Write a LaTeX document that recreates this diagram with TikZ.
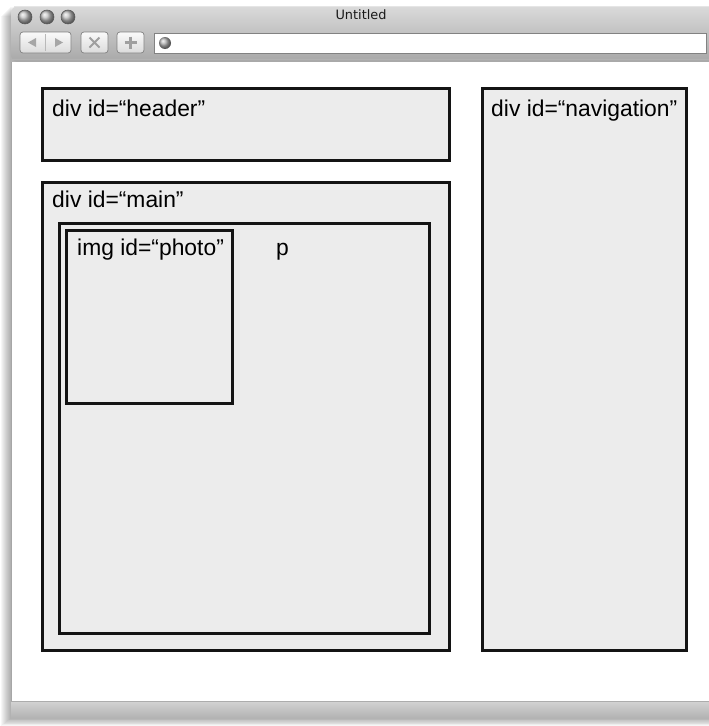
\documentclass[tikz,border=0pt]{standalone}
\usepackage{fontspec}
\setmainfont{Liberation Sans}
\newfontfamily\chromefont{DejaVu Sans}
\usepackage{tikz}
\usetikzlibrary{positioning}
\definecolor{BoxFill}{RGB}{236,236,236}
\definecolor{BoxLine}{RGB}{20,20,20}
\definecolor{MetalTop}{RGB}{218,218,218}
\definecolor{MetalBot}{RGB}{168,168,168}
\definecolor{BtnLine}{RGB}{130,130,130}
\newcommand{\pxu}{0.03cm}

\begin{document}
\begin{tikzpicture}[
    x=0.03cm, y=-0.03cm,
    divbox/.style={rectangle, draw=BoxLine, line width=2.5pt, fill=BoxFill,
                   anchor=north west, inner sep=0pt},
    lbl/.style={anchor=base west, inner sep=0pt,
                font=\fontsize{19.5}{22}\selectfont},
    btn/.style={rounded corners=2.5pt, draw=BtnLine, line width=0.6pt,
                top color=gray!4, bottom color=gray!28},
    glyph/.style={draw=gray!75, line width=1.8pt},
    light/.style={ball color=gray!50, draw=gray!70!black, line width=0.5pt}
  ]
    \useasboundingbox (0,0) rectangle (709,726);
    \clip (0,0) rectangle (709,726);

    % window shadow
    \foreach \s in {1,...,10}
      \fill[black, opacity=0.035] (11-\s,6+\s) rectangle (730,718+0.8*\s);

    % title bar and toolbar
    \shade[top color=MetalTop, bottom color=MetalBot, rounded corners=6pt]
      (11,6) rectangle (730,62);
    \draw[white!80!gray, line width=0.5pt] (14,6.5) -- (730,6.5);
    \draw[gray!60, line width=0.5pt] (11,59.5) -- (730,59.5);
    \node[font=\chromefont\fontsize{11}{13}\selectfont, text=black!90] (title) at (361,15) {Untitled};
    \foreach \cx in {25,47,68}
      \shade[light] (\cx,17) circle (7);

    % buttons
    \shade[btn] (20,32) rectangle (71,53);
    \draw[gray!55, line width=0.4pt] (45.5,34) -- (45.5,51);
    \fill[gray!70] (28,42.5) -- (36,38) -- (36,47) -- cycle;
    \fill[gray!70] (63,42.5) -- (55,38) -- (55,47) -- cycle;
    \shade[btn] (81,32) rectangle (108,53);
    \draw[glyph] (89.5,37.5) -- (99.5,47.5) (99.5,37.5) -- (89.5,47.5);
    \shade[btn] (117,32) rectangle (144,53);
    \draw[glyph] (130.5,36.5) -- (130.5,48.5) (124.5,42.5) -- (136.5,42.5);

    % address bar
    \fill[white, draw=BtnLine, line width=0.6pt] (154,33) rectangle (706,53);
    \shade[ball color=gray!60] (165,43) circle (6);

    % page area
    \fill[white] (11,62) rectangle (730,701);
    \draw[gray!70, line width=0.5pt] (11,62) -- (11,701);

    % status bar
    \shade[top color=gray!35, bottom color=gray!60] (11,701) rectangle (730,718);
    \draw[gray!65, line width=0.6pt] (11,701.5) -- (730,701.5);

    % page boxes
    \node[divbox, minimum width=407*\pxu, minimum height=72*\pxu]  (header) at (41,87) {};
    \node[divbox, minimum width=204*\pxu, minimum height=562*\pxu] (navigation) at (481,87) {};
    \node[divbox, minimum width=407*\pxu, minimum height=468*\pxu] (main) at (41,181) {};
    \node[divbox, minimum width=370*\pxu, minimum height=410*\pxu] (para) at (58,222) {};
    \node[divbox, minimum width=166*\pxu, minimum height=173*\pxu] (photo) at (65,229) {};

    \node[lbl] (headerlbl) at (52,116) {div id=“header”};
    \node[lbl] (navlbl) at (491,116) {div id=“navigation”};
    \node[lbl] (mainlbl) at (52,207) {div id=“main”};
    \node[lbl] (photolbl) at (77,255) {img id=“photo”};
    \node[lbl] (paralbl) at (276,255) {p};
  \end{tikzpicture}
\end{document}
